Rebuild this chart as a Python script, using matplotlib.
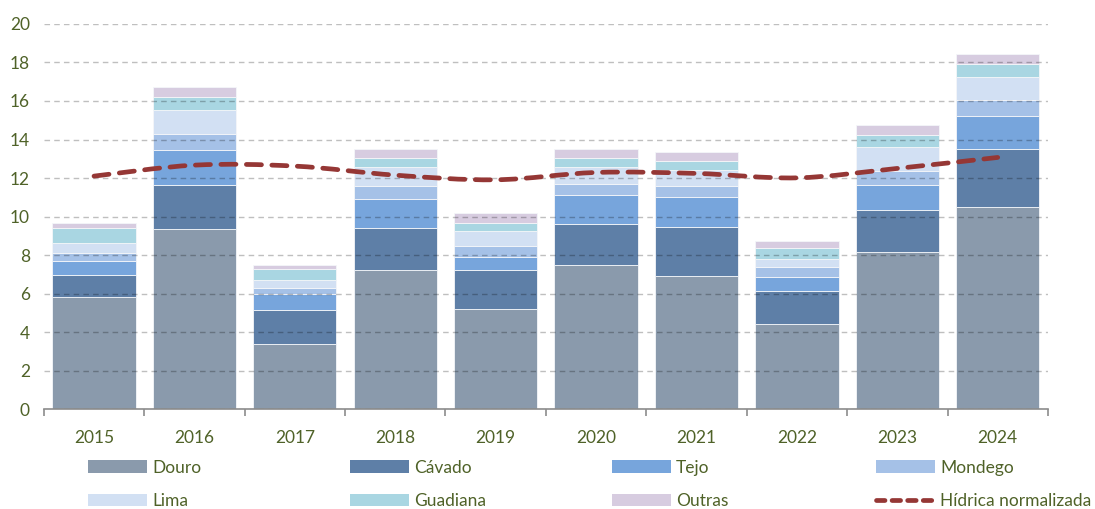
import numpy as np
import matplotlib
matplotlib.use("Agg")
import matplotlib.pyplot as plt
from matplotlib.path import Path
from matplotlib.patches import PathPatch, Patch
from matplotlib.lines import Line2D

# ------------------------------------------------------------------
# data
# ------------------------------------------------------------------
years = ["2015", "2016", "2017", "2018", "2019", "2020", "2021", "2022", "2023", "2024"]

douro    = [5.80, 9.35, 3.39, 7.22, 5.19, 7.48, 6.94, 4.45, 8.15, 10.49]
cavado   = [1.17, 2.31, 1.77, 2.21, 2.03, 2.14, 2.54, 1.69, 2.20, 3.03]
tejo     = [0.73, 1.79, 0.83, 1.47, 0.67, 1.49, 1.53, 0.71, 1.30, 1.69]
mondego  = [0.42, 0.83, 0.31, 0.68, 0.57, 0.57, 0.57, 0.51, 0.71, 0.83]
lima     = [0.50, 1.24, 0.40, 1.00, 0.78, 0.88, 0.85, 0.43, 1.26, 1.20]
guadiana = [0.79, 0.71, 0.59, 0.45, 0.43, 0.49, 0.48, 0.57, 0.61, 0.69]
outras   = [0.28, 0.52, 0.22, 0.47, 0.49, 0.47, 0.42, 0.36, 0.52, 0.52]

hidrica_norm = [12.10, 12.67, 12.62, 12.15, 11.91, 12.29, 12.24, 12.01, 12.50, 13.07]

series_names = ["Douro", "Cávado", "Tejo", "Mondego", "Lima", "Guadiana", "Outras"]
series_vals = [douro, cavado, tejo, mondego, lima, guadiana, outras]
colors = ["#8A9AAC", "#5E7FA7", "#77A5DC", "#A5C1E7", "#D2E0F3", "#A9D6E2", "#D7CCE0"]
line_color = "#953735"
text_color = "#4F6228"

plt.rcParams["font.family"] = ["Lato", "DejaVu Sans"]
FS = 12.5

fig = plt.figure(figsize=(10.95, 5.09), dpi=100)
ax = fig.add_axes([0.040, 0.196, 0.917, 0.757])

x = np.arange(len(years))
bottom = np.zeros(len(years))
for name, vals, c in zip(series_names, series_vals, colors):
    ax.bar(x, vals, width=0.83, bottom=bottom, color=c, edgecolor="#F4F6F9",
           linewidth=0.6, label=name, zorder=2)
    bottom += np.array(vals)

# smoothed line (Catmull-Rom rendered as cubic Bezier through the data points)
pts = np.column_stack([x, hidrica_norm]).astype(float)
verts = [tuple(pts[0])]
codes = [Path.MOVETO]
for i in range(len(pts) - 1):
    p0 = pts[i - 1] if i > 0 else pts[i]
    p1 = pts[i]
    p2 = pts[i + 1]
    p3 = pts[i + 2] if i + 2 < len(pts) else pts[i + 1]
    c1 = p1 + (p2 - p0) / 6.0
    c2 = p2 - (p3 - p1) / 6.0
    verts += [tuple(c1), tuple(c2), tuple(p2)]
    codes += [Path.CURVE4] * 3
dash = (0, (3.2, 2.2))
ax.add_patch(PathPatch(Path(verts, codes), facecolor="none", edgecolor=line_color,
                       linewidth=3.4, linestyle=dash, capstyle="round", zorder=4))

# axes styling
ax.set_ylim(0, 20)
ax.set_yticks(range(0, 21, 2))
ax.set_xlim(-0.5, len(years) - 0.5)
ax.yaxis.grid(True, linestyle=(0, (4, 3)), color="black", alpha=0.25, linewidth=1.0, zorder=3)
ax.set_axisbelow(False)
for s in ["top", "right", "left"]:
    ax.spines[s].set_visible(False)
ax.spines["bottom"].set_color("#8C8C8C")
ax.spines["bottom"].set_linewidth(1.2)
ax.spines["bottom"].set_zorder(5)

ax.set_xticks(x)
ax.set_xticklabels(years)
ax.set_xticks(np.arange(-0.5, len(years), 1.0), minor=True)
ax.tick_params(axis="x", which="major", length=0, pad=15, labelsize=FS, labelcolor=text_color)
ax.tick_params(axis="x", which="minor", length=5, width=1.2, color="#8C8C8C", direction="out")
ax.tick_params(axis="y", length=0, pad=10, labelsize=FS, labelcolor=text_color)

# legend: four columns, two rows each
handles = [Patch(facecolor=c, edgecolor="none") for c in colors]
handles.append(Line2D([0], [0], color=line_color, linewidth=3.4, linestyle=(0, (1.8, 1.5)),
                      dash_capstyle="round"))
labels = series_names + ["Hídrica normalizada"]
columns = [[0, 4], [1, 5], [2, 6], [3, 7]]
col_x = [0.0804, 0.3196, 0.5589, 0.800]
for cx, idx in zip(col_x, columns):
    leg = fig.legend([handles[i] for i in idx], [labels[i] for i in idx],
                     loc="upper left", bbox_to_anchor=(cx, 0.097), ncol=1, frameon=False,
                     fontsize=FS, handlelength=3.4, handleheight=0.7, handletextpad=0.3,
                     labelspacing=1.0, borderpad=0, borderaxespad=0)
    for t in leg.get_texts():
        t.set_color(text_color)

fig.savefig("out.png", dpi=100)
